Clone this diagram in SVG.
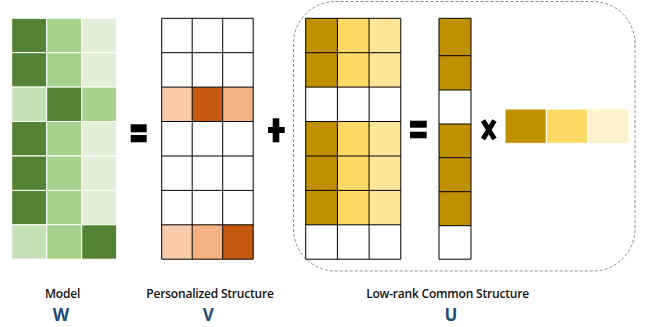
<svg xmlns="http://www.w3.org/2000/svg" width="656" height="327" viewBox="0 0 656 327">
  <style>
    .wc { stroke: #ffffff; stroke-width: 1; }
    .g1 { fill: #548235; }
    .g2 { fill: #A9D18E; }
    .g3 { fill: #E2EFDA; }
    .g4 { fill: #C5E0B4; }
    .grid { stroke: #000000; stroke-width: 1; }
    .o1 { fill: #F8CBAD; }
    .o2 { fill: #C55A11; }
    .o3 { fill: #F4B183; }
    .y1 { fill: #BF9000; }
    .y2 { fill: #FFD966; }
    .y3 { fill: #FFE699; }
    .y4 { fill: #FFF2CC; }
    .op { fill: #000000; }
    .lbl { font-family: "Open Sans", "Liberation Sans", sans-serif; font-size: 12px; font-weight: 600; fill: #111111; text-anchor: middle; letter-spacing: -0.2px; }
    .sym { font-family: "Open Sans", "Liberation Sans", sans-serif; font-size: 17px; font-weight: 700; fill: #1F4E79; text-anchor: middle; }
  </style>

  <rect width="656" height="327" fill="#ffffff"/>

  <!-- dashed frame around the low-rank factorisation -->
  <g id="common-frame">
    <rect x="293.5" y="1.5" width="341.5" height="269.5" rx="42" ry="42" fill="none" stroke="#8a8a8a" stroke-width="1" stroke-dasharray="3 2"/>
  </g>

  <!-- model matrix W -->
  <g id="matrix-W" class="wc">
    <rect class="g1" x="11.7" y="18.3" width="35" height="34.4"/>
    <rect class="g2" x="46.7" y="18.3" width="35" height="34.4"/>
    <rect class="g3" x="81.7" y="18.3" width="35" height="34.4"/>
    <rect class="g1" x="11.7" y="52.7" width="35" height="34.4"/>
    <rect class="g2" x="46.7" y="52.7" width="35" height="34.4"/>
    <rect class="g3" x="81.7" y="52.7" width="35" height="34.4"/>
    <rect class="g4" x="11.7" y="87.1" width="35" height="34.4"/>
    <rect class="g1" x="46.7" y="87.1" width="35" height="34.4"/>
    <rect class="g2" x="81.7" y="87.1" width="35" height="34.4"/>
    <rect class="g1" x="11.7" y="121.5" width="35" height="34.4"/>
    <rect class="g2" x="46.7" y="121.5" width="35" height="34.4"/>
    <rect class="g3" x="81.7" y="121.5" width="35" height="34.4"/>
    <rect class="g1" x="11.7" y="156" width="35" height="34.4"/>
    <rect class="g2" x="46.7" y="156" width="35" height="34.4"/>
    <rect class="g3" x="81.7" y="156" width="35" height="34.4"/>
    <rect class="g1" x="11.7" y="190.4" width="35" height="34.4"/>
    <rect class="g2" x="46.7" y="190.4" width="35" height="34.4"/>
    <rect class="g3" x="81.7" y="190.4" width="35" height="34.4"/>
    <rect class="g4" x="11.7" y="224.8" width="35" height="34.4"/>
    <rect class="g2" x="46.7" y="224.8" width="35" height="34.4"/>
    <rect class="g1" x="81.7" y="224.8" width="35" height="34.4"/>
  </g>

  <!-- personalised matrix V -->
  <g id="matrix-V">
    <rect class="o1" x="161.7" y="87.1" width="30.5" height="34.4"/>
    <rect class="o2" x="192.2" y="87.1" width="30.5" height="34.4"/>
    <rect class="o3" x="222.7" y="87.1" width="30.5" height="34.4"/>
    <rect class="o1" x="161.7" y="224.8" width="30.5" height="34.4"/>
    <rect class="o3" x="192.2" y="224.8" width="30.5" height="34.4"/>
    <rect class="o2" x="222.7" y="224.8" width="30.5" height="34.4"/>
    <path class="grid" fill="none" d="M161.7 18.3H253.2V259.2H161.7Z M192.2 18.3V259.2 M222.7 18.3V259.2 M161.7 52.7H253.2 M161.7 87.1H253.2 M161.7 121.5H253.2 M161.7 156H253.2 M161.7 190.4H253.2 M161.7 224.8H253.2"/>
  </g>

  <!-- product matrix of the common structure -->
  <g id="matrix-UV">
    <rect class="y1" x="305.7" y="18.3" width="31.7" height="68.8"/>
    <rect class="y2" x="337.4" y="18.3" width="31.7" height="68.8"/>
    <rect class="y3" x="369.1" y="18.3" width="31.7" height="68.8"/>
    <rect class="y1" x="305.7" y="121.5" width="31.7" height="103.3"/>
    <rect class="y2" x="337.4" y="121.5" width="31.7" height="103.3"/>
    <rect class="y3" x="369.1" y="121.5" width="31.7" height="103.3"/>
    <path class="grid" fill="none" d="M305.7 18.3H400.8V259.2H305.7Z M337.4 18.3V259.2 M369.1 18.3V259.2 M305.7 52.7H400.8 M305.7 87.1H400.8 M305.7 121.5H400.8 M305.7 156H400.8 M305.7 190.4H400.8 M305.7 224.8H400.8"/>
  </g>

  <!-- column factor U -->
  <g id="matrix-U">
    <rect class="y1" x="439" y="18.3" width="32" height="71.7"/>
    <rect class="y1" x="439" y="124" width="32" height="101.7"/>
    <path class="grid" fill="none" d="M439 18.3H471V259.2H439Z M439 55.7H471 M439 90H471 M439 124H471 M439 157.7H471 M439 191.7H471 M439 225.7H471"/>
  </g>

  <!-- row factor -->
  <g id="row-factor" class="wc">
    <rect class="y1" x="505" y="109" width="41.3" height="34.3"/>
    <rect class="y2" x="546.3" y="109" width="41.3" height="34.3"/>
    <rect class="y4" x="587.6" y="109" width="41.3" height="34.3"/>
  </g>

  <!-- operators -->
  <g id="op-equals-1" class="op">
    <rect x="130.7" y="124.3" width="16" height="8"/>
    <rect x="130.7" y="135" width="16" height="7.3"/>
  </g>
  <g id="op-plus" class="op">
    <rect x="272.7" y="118.3" width="6.6" height="24"/>
    <rect x="268" y="127" width="16.7" height="6"/>
  </g>
  <g id="op-equals-2" class="op">
    <rect x="410" y="120.7" width="16.7" height="7"/>
    <rect x="410" y="131.7" width="16.7" height="6.6"/>
  </g>
  <g id="op-times">
    <path d="M483 120.5 L494.5 139 M494.5 120.5 L483 139" stroke="#000000" stroke-width="5" fill="none"/>
  </g>

  <!-- captions -->
  <g id="labels">
    <text class="lbl" x="62.5" y="298">Model</text>
    <text class="sym" x="61" y="321">W</text>
    <text class="lbl" x="210" y="298">Personalized Structure</text>
    <text class="sym" x="208.3" y="321">V</text>
    <text class="lbl" x="447.5" y="298">Low-rank Common Structure</text>
    <text class="sym" x="451" y="321">U</text>
  </g>
</svg>
